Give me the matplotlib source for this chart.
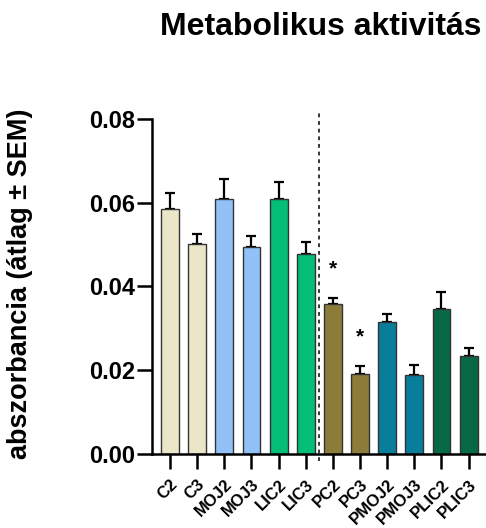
import matplotlib.pyplot as plt
from matplotlib.transforms import ScaledTranslation

plt.rcParams["font.family"] = ["Liberation Sans", "DejaVu Sans"]
plt.rcParams["font.weight"] = "bold"

groups = ["C2", "C3", "MOJ2", "MOJ3", "LIC2", "LIC3",
          "PC2", "PC3", "PMOJ2", "PMOJ3", "PLIC2", "PLIC3"]
means = [0.0584, 0.0502, 0.0610, 0.0494, 0.0610, 0.0477,
         0.0358, 0.0191, 0.0316, 0.0188, 0.0347, 0.0234]
sems = [0.0040, 0.0024, 0.0046, 0.0027, 0.0040, 0.0030,
        0.0014, 0.0020, 0.0018, 0.0024, 0.0039, 0.0019]
colors = ["#ECE6C9", "#ECE6C9", "#92C1F8", "#92C1F8", "#04BE78", "#04BE78",
          "#8B7C3A", "#8B7C3A", "#087E9B", "#087E9B", "#076944", "#076944"]
significant = ["PC2", "PC3"]

fig = plt.figure(figsize=(4.86, 5.28), dpi=100)
ax = fig.add_axes([0.3128, 0.1402, 0.685, 0.6345])

x = list(range(len(groups)))
ax.bar(x, means, width=0.66, color=colors, edgecolor="#333333", linewidth=1.0, zorder=2)
ax.errorbar(x, means, yerr=[[0] * len(sems), sems], fmt="none", ecolor="black",
            elinewidth=1.6, capsize=3.5, capthick=1.6, zorder=1)

for i, g in enumerate(groups):
    if g in significant:
        ax.annotate("*", (i, means[i] + sems[i]), xytext=(0, 14), textcoords="offset points",
                    ha="center", va="bottom", fontsize=15, fontweight="bold")

# divider between the two sets
ax.plot([5.5, 5.5], [-0.0016, 0.0814], color="black", linestyle=(0, (2.5, 2.5)),
        linewidth=1.1, clip_on=False, zorder=3)

ax.set_xlim(-0.664, 11.6)
ax.set_ylim(0, 0.08)
ax.set_yticks([0.0, 0.02, 0.04, 0.06, 0.08])
ax.set_yticklabels(["0.00", "0.02", "0.04", "0.06", "0.08"], fontsize=17, fontweight="bold")
ax.set_xticks(x)
ax.set_xticklabels(groups, rotation=45, ha="right", va="top", rotation_mode="anchor",
                   fontsize=12, fontweight="bold")
shift = ScaledTranslation(5 / 100, 0, fig.dpi_scale_trans)
for lab in ax.get_xticklabels():
    lab.set_transform(lab.get_transform() + shift)

for s in ["top", "right"]:
    ax.spines[s].set_visible(False)
for s in ["left", "bottom"]:
    ax.spines[s].set_linewidth(1.8)
ax.tick_params(axis="y", length=11, width=1.8, pad=1)
ax.tick_params(axis="x", length=10.5, width=1.8, pad=6)

fig.text(0.041, 0.463, "abszorbancia (átlag ± SEM)", rotation=90, ha="center", va="center",
         fontsize=19.5, fontweight="bold")
fig.text(0.66, 1 - 12 / 528, "Metabolikus aktivitás", ha="center", va="top",
         fontsize=23, fontweight="bold")

fig.savefig("out.png", dpi=100)
